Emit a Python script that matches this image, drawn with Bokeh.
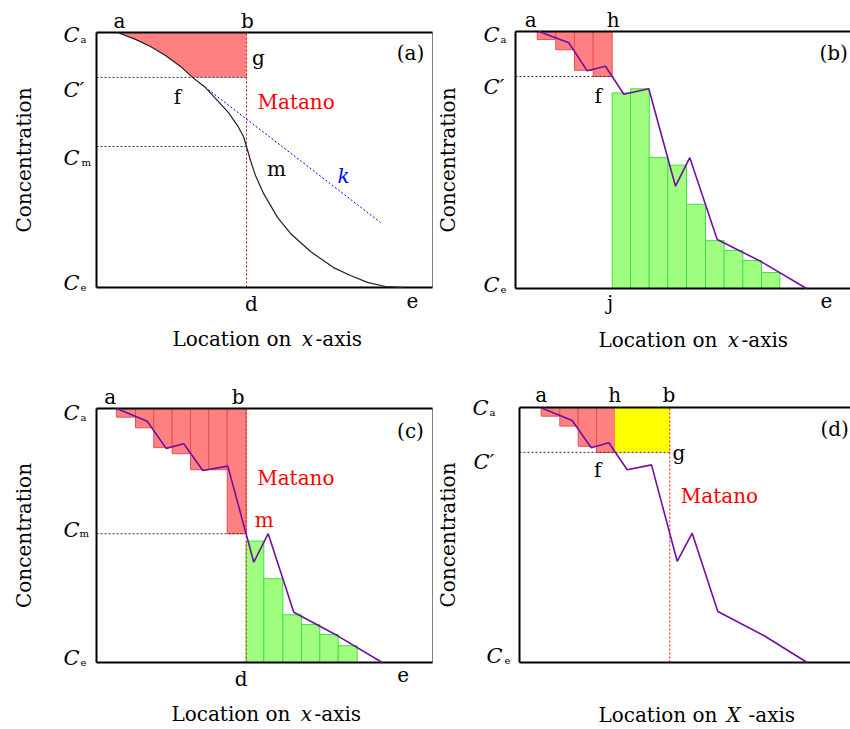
import math
from bokeh.plotting import figure
from bokeh.models import Range1d, Label
from bokeh.layouts import row, column
from bokeh.embed import file_html
from bokeh.resources import INLINE

FONT = "DejaVu Serif"
SIZE_TEXT = "20px"
SIZE_C = "21px"
SIZE_SUB = "10px"
RED_FILL = "#ff8080"
RED_EDGE = "#e85050"
GREEN_FILL = "#a0ff80"
GREEN_EDGE = "#40e040"
PURPLE = "#7010a0"

# ---------------- data (concentration scale: Ce = 0, Ca = 100) ----------------
CA = 100.0
CE = 0.0

# Panel (a): smooth concentration profile
A_CURVE_X = [2.1, 3.9, 5.4, 6.9, 8.4, 9.6, 10.9, 12.1, 13.2, 14.1, 14.7, 15.0, 15.4,
             15.9, 16.7, 18.1, 19.4, 21.4, 23.7, 25.4, 27.1, 28.9, 30.7]
A_CURVE_Y = [100.0, 97.3, 94.5, 91.0, 86.7, 82.4, 78.4, 73.3, 68.6, 63.5, 59.2, 55.3, 49.8,
             43.9, 36.9, 27.5, 21.2, 14.1, 7.8, 4.7, 2.0, 0.4, 0.0]
A_CP = 82.4
A_CM = 55.3
A_MATANO = 15.0
A_TANGENT_X = [9.6, 28.4]
A_TANGENT_Y = [82.4, 25.5]
A_XMAX = 33.6

# Panel (b)
B_RED_EDGES = [2.17, 4.03, 5.9, 7.77, 9.67]
B_RED_BOTTOM = [96.9, 92.9, 84.9, 82.5]
B_GREEN_EDGES = [9.67, 11.5, 13.37, 15.23, 17.1, 19.0, 20.87, 22.73, 24.6, 26.43]
B_GREEN_TOP = [76.1, 77.7, 50.9, 48.0, 32.8, 18.6, 14.8, 10.9, 6.2]
B_LINE_X = [2.33, 5.33, 7.17, 9.0, 10.83, 13.33, 16.0, 17.43, 20.17, 24.5, 29.1]
B_LINE_Y = [100.0, 95.6, 84.7, 86.5, 75.6, 77.7, 39.8, 50.9, 19.1, 10.6, 0.0]
B_CP = 82.5
B_XMAX = 33.5

# Panel (c)
C_RED_EDGES = [2.0, 3.9, 5.73, 7.57, 9.4, 11.23, 13.07, 14.97]
C_RED_BOTTOM = [96.6, 92.4, 84.6, 82.2, 75.9, 75.9, 50.7]
C_GREEN_EDGES = [14.97, 16.73, 18.63, 20.5, 22.33, 24.17, 26.07]
C_GREEN_TOP = [47.8, 33.0, 18.8, 15.0, 11.0, 6.6]
C_LINE_X = [2.07, 5.07, 6.97, 8.73, 10.63, 13.13, 15.73, 17.17, 19.73, 24.07, 28.57]
C_LINE_Y = [99.9, 95.0, 84.3, 86.1, 75.6, 77.3, 39.5, 50.7, 19.8, 10.6, 0.0]
C_CM = 50.7
C_MATANO = 14.97
C_XMAX = 33.6

# Panel (d)
D_RED_EDGES = [2.17, 4.03, 5.87, 7.7, 9.53]
D_RED_BOTTOM = [96.6, 92.7, 84.8, 82.4]
D_LINE_X = [2.27, 5.27, 7.17, 8.93, 10.77, 13.2, 15.77, 17.27, 19.83, 24.43, 28.77]
D_LINE_Y = [99.7, 94.9, 84.2, 86.2, 75.6, 77.5, 39.7, 50.7, 20.0, 10.6, 0.0]
D_CP = 82.4
D_MATANO = 15.03
D_XMAX = 33.1


# ---------------- helpers ----------------
def make_panel(W, H, L, T, B, xmax, right_edge):
    """Figure whose frame covers the whole canvas; the plot box spans
    x in [0, xmax] and y in [CE, CA] at the given pixel geometry."""
    R = L + xmax * 10.0
    sx = (R - L) / xmax
    sy = (B - T) / (CA - CE)
    xr = Range1d(-L / sx, (W - L) / sx)
    yr = Range1d(CE - (H - B) / sy, CA + T / sy)
    p = figure(frame_width=W, frame_height=H, x_range=xr, y_range=yr,
               min_border=0, x_axis_type=None, y_axis_type=None,
               output_backend="svg", toolbar_location=None, tools="")
    p.grid.visible = False
    p.outline_line_color = None
    p.background_fill_color = "white"
    p.border_fill_color = "white"
    p._xmax = xmax
    p._right_edge = right_edge
    return p


def draw_box(p):
    xmax = p._xmax
    if p._right_edge:
        p.line([xmax, xmax], [CE, CA], line_color="#808080", line_width=1)
    p.line([0, xmax], [CA, CA], line_color="black", line_width=2)
    p.line([0, xmax], [CE, CE], line_color="black", line_width=2)
    p.line([0, 0], [CE, CA], line_color="black", line_width=2)


def _px(size):
    return float(size.replace("px", ""))


def lab(p, text, x, y, dx=0, dy=0, size=SIZE_TEXT, color="black", style="normal",
        align="center", angle=0.0, middle=False):
    # dy is the offset of the text baseline; converted to a middle anchor
    off = 0.0 if middle else 0.34 * _px(size)
    p.add_layout(Label(x=x, y=y, x_offset=dx, y_offset=dy + off, text=text,
                       text_font=FONT, text_font_size=size, text_color=color,
                       text_font_style=style, text_align=align,
                       text_baseline="middle", angle=angle))


def clabel(p, level, sub, dx_c, dx_sub, dy, prime=False):
    lab(p, "C\u2032" if prime else "C", 0, level, dx_c, dy, size=SIZE_C,
        style="italic", align="left")
    if sub:
        lab(p, sub, 0, level, dx_sub, dy, size=SIZE_SUB, align="left")


def xtitle(p, dx, dy, var, gaps):
    lab(p, "Location on", 0, CE, dx + gaps[0], dy, align="right")
    lab(p, var, 0, CE, dx + gaps[1], dy, style="italic")
    lab(p, "-axis", 0, CE, dx + gaps[2], dy, align="left")


def ytitle(p, dx):
    lab(p, "Concentration", 0, (CA + CE) / 2, dx, 0, angle=math.pi / 2, middle=True)


def bars_from_top(p, edges, bottoms, top):
    p.quad(left=edges[:-1], right=edges[1:], top=[top] * len(bottoms), bottom=bottoms,
           fill_color=RED_FILL, line_color=RED_EDGE, line_width=1)


def bars_from_bottom(p, edges, tops, bottom):
    p.quad(left=edges[:-1], right=edges[1:], top=tops, bottom=[bottom] * len(tops),
           fill_color=GREEN_FILL, line_color=GREEN_EDGE, line_width=1)


def hdot(p, x1, level):
    p.line([0, x1], [level, level], line_color="#333333", line_width=1, line_dash="2 2")


def vmatano(p, xm):
    p.line([xm, xm], [CE, CA], line_color="red", line_width=1, line_dash="2 2")


# ---------------- panel (a) ----------------
pa = make_panel(433, 366, 96, 32, 287, A_XMAX, True)
seg_x = [x for x, y in zip(A_CURVE_X, A_CURVE_Y) if y >= A_CP]
seg_y = [y for y in A_CURVE_Y if y >= A_CP]
pa.patch(seg_x + [A_MATANO, A_MATANO], seg_y + [A_CP, CA],
         fill_color=RED_FILL, line_color=None)
hdot(pa, A_MATANO, A_CP)
hdot(pa, A_MATANO, A_CM)
vmatano(pa, A_MATANO)
draw_box(pa)
pa.line(A_TANGENT_X, A_TANGENT_Y, line_color="blue", line_width=1, line_dash="2 2")
pa.line(A_CURVE_X, A_CURVE_Y, line_color="#222222", line_width=1.2)

lab(pa, "a", A_CURVE_X[0], CA, 2, 5)
lab(pa, "b", A_MATANO, CA, 1, 5)
lab(pa, "g", A_MATANO, A_CP, 12, 13)
lab(pa, "f", A_TANGENT_X[0], A_CP, -15, -26)
lab(pa, "Matano", A_MATANO, A_CP, 11, -31, color="red", align="left")
lab(pa, "m", A_MATANO, A_CM, 30, -29)
lab(pa, "k", A_TANGENT_X[1], A_TANGENT_Y[1], -37, 40, color="blue", style="italic")
lab(pa, "d", A_MATANO, CE, 5, -23)
lab(pa, "e", A_CURVE_X[-1], CE, 9, -20)
lab(pa, "(a)", A_XMAX, CA, -22, -27)
clabel(pa, CA, "a", -33, -16, -10)
clabel(pa, A_CP, None, -33, 0, -20, prime=True)
clabel(pa, A_CM, "m", -33, -15, -19)
clabel(pa, CE, "e", -33, -16, -3)
ytitle(pa, -73)
xtitle(pa, 172, -58, "x", (23, 39, 47))

# ---------------- panel (b) ----------------
pb = make_panel(417, 366, 82, 31, 288, B_XMAX, False)
bars_from_top(pb, B_RED_EDGES, B_RED_BOTTOM, CA)
bars_from_bottom(pb, B_GREEN_EDGES, B_GREEN_TOP, CE)
hdot(pb, B_RED_EDGES[-1], B_CP)
draw_box(pb)
pb.line(B_LINE_X, B_LINE_Y, line_color=PURPLE, line_width=1.6)

lab(pb, "a", B_LINE_X[0], CA, -8, 5)
lab(pb, "h", B_RED_EDGES[-1], CA, 1, 5)
lab(pb, "f", B_RED_EDGES[-1], B_CP, -14, -26)
lab(pb, "j", B_GREEN_EDGES[0], CE, -2, -21)
lab(pb, "e", B_LINE_X[-1], CE, 20, -19)
lab(pb, "(b)", 0, CA, 304, -28, align="left")
clabel(pb, CA, "a", -32, -15, -11)
clabel(pb, B_CP, None, -32, 0, -18, prime=True)
clabel(pb, CE, "e", -32, -15, -4)
ytitle(pb, -68)
xtitle(pb, 179, -58, "x", (23, 39, 47))

# ---------------- panel (c) ----------------
pc = make_panel(433, 362, 96, 42, 296, C_XMAX, True)
bars_from_top(pc, C_RED_EDGES, C_RED_BOTTOM, CA)
bars_from_bottom(pc, C_GREEN_EDGES, C_GREEN_TOP, CE)
hdot(pc, C_MATANO, C_CM)
vmatano(pc, C_MATANO)
draw_box(pc)
pc.line(C_LINE_X, C_LINE_Y, line_color=PURPLE, line_width=1.6)

lab(pc, "a", C_LINE_X[0], CA, -7, 5)
lab(pc, "b", C_MATANO, CA, -8, 5)
lab(pc, "Matano", C_MATANO, CA, 11, -76, color="red", align="left")
lab(pc, "m", C_MATANO, C_CM, 18, 7, color="red")
lab(pc, "d", C_MATANO, CE, -5, -23)
lab(pc, "e", C_LINE_X[-1], CE, 21, -19)
lab(pc, "(c)", C_XMAX, CA, -22, -29)
clabel(pc, CA, "a", -33, -16, -12)
clabel(pc, C_CM, "m", -33, -17, -3)
clabel(pc, CE, "e", -33, -16, -3)
ytitle(pc, -73)
xtitle(pc, 171, -58, "x", (23, 39, 47))

# ---------------- panel (d) ----------------
pd = make_panel(417, 362, 86, 41, 296, D_XMAX, False)
bars_from_top(pd, D_RED_EDGES, D_RED_BOTTOM, CA)
pd.quad(left=[D_RED_EDGES[-1]], right=[D_MATANO], top=[CA], bottom=[D_CP],
        fill_color="#ffff00", line_color=None)
hdot(pd, D_MATANO, D_CP)
vmatano(pd, D_MATANO)
draw_box(pd)
pd.line(D_LINE_X, D_LINE_Y, line_color=PURPLE, line_width=1.6)

lab(pd, "a", D_LINE_X[0], CA, -1, 6)
lab(pd, "h", D_RED_EDGES[-1], CA, 0, 6)
lab(pd, "b", D_MATANO, CA, -1, 6)
lab(pd, "g", D_MATANO, D_CP, 9, -7)
lab(pd, "f", D_RED_EDGES[-1], D_CP, -17, -24)
lab(pd, "Matano", D_MATANO, D_CP, 11, -50, color="red", align="left")
lab(pd, "(d)", 0, CA, 301, -28, align="left")
clabel(pd, CA, "a", -47, -30, -8)
clabel(pd, D_CP, None, -46, 0, -17, prime=True)
clabel(pd, CE, "e", -33, -15, -1)
ytitle(pd, -72)
xtitle(pd, 177, -59, "X", (21, 37, 52))

layout = column(row(pa, pb), row(pc, pd))
open("out.html", "w").write(file_html(layout, INLINE))
